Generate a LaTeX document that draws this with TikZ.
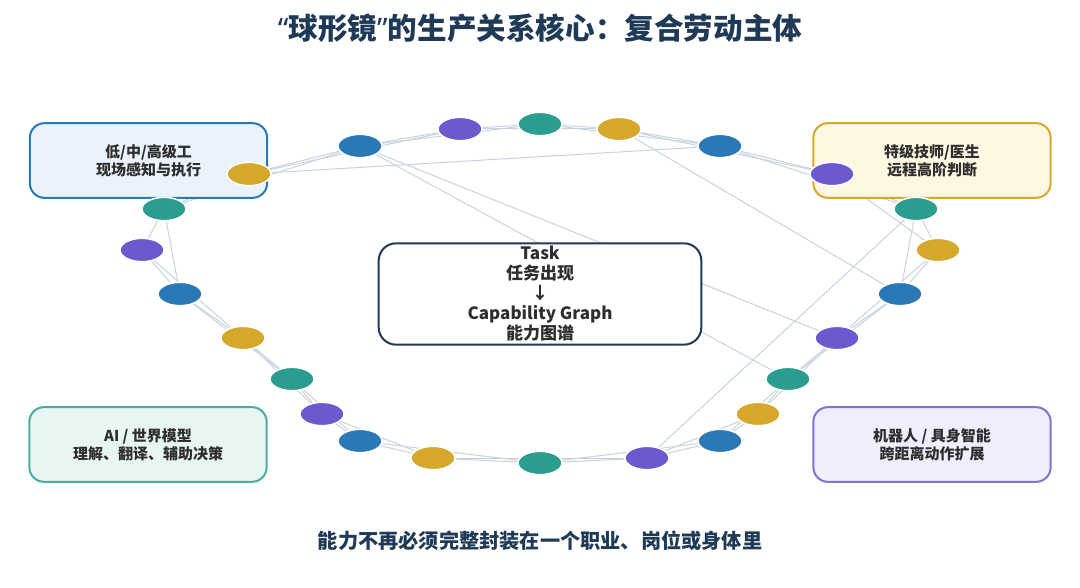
\documentclass[tikz,border=0pt]{standalone}
\usepackage{fontspec}
\setmainfont{Noto Sans CJK SC}
\newfontfamily\latinq{Noto Sans}
\usetikzlibrary{shapes.geometric}
\definecolor{navy}{HTML}{1E3A56}
\definecolor{txt}{HTML}{2E2E2E}
\definecolor{edgec}{HTML}{C8D2DC}
\definecolor{cblue}{HTML}{2A78B6}
\definecolor{cpurple}{HTML}{6A5ACD}
\definecolor{cgreen}{HTML}{2A9D8F}
\definecolor{cyellow}{HTML}{D5A72B}
\definecolor{fblue}{HTML}{EAF2FB}
\definecolor{fyellow}{HTML}{FEF7E2}
\definecolor{fgreen}{HTML}{E8F6F3}
\definecolor{fpurple}{HTML}{F0EEFC}
\pgfdeclarelayer{edges}
\pgfdeclarelayer{boxes}
\pgfsetlayers{edges,boxes,main}
\tikzset{
  dot/.style={ellipse, draw=white, line width=1.1pt, minimum width=33pt, minimum height=17.5pt, inner sep=0pt},
  db/.style={dot, fill=cblue},
  dp/.style={dot, fill=cpurple},
  dg/.style={dot, fill=cgreen},
  dy/.style={dot, fill=cyellow},
  link/.style={draw=edgec, line width=0.75pt},
  corner/.style={rounded corners=11pt, line width=1.5pt, minimum width=178pt, minimum height=56pt, align=center, text=txt, font=\fontsize{11.25}{13.5}\selectfont\bfseries},
  centerbox/.style={rounded corners=13pt, line width=1.5pt, draw=navy, fill=white, minimum width=242pt, minimum height=76pt, align=center, text=txt, font=\fontsize{12.75}{15}\selectfont\bfseries, inner sep=0pt}
}
\begin{document}
\begin{tikzpicture}[x=0.75pt,y=-0.75pt]
\useasboundingbox (0,0) rectangle (1080,588);
% title and footer
\node[text=navy, font=\fontsize{22.2}{24}\selectfont\bfseries] (title) at (540,28) {{\latinq\bfseries “}球形镜{\latinq\bfseries ”}的生产关系核心：复合劳动主体};
\node[text=navy, font=\fontsize{15.15}{18}\selectfont\bfseries] (foot) at (540,541) {能力不再必须完整封装在一个职业、岗位或身体里};
% ring nodes
\node[dy] (n1) at (249,174) {};
\node[db] (n2) at (360,146) {};
\node[dp] (n3) at (460,129) {};
\node[dg] (n4) at (540,124) {};
\node[dy] (n5) at (619,129) {};
\node[db] (n6) at (720,146) {};
\node[dp] (n7) at (832,174) {};
\node[dg] (n8) at (916,209) {};
\node[dy] (n9) at (938,250) {};
\node[db] (n10) at (900,294) {};
\node[dp] (n11) at (837,338) {};
\node[dg] (n12) at (788,379) {};
\node[dy] (n13) at (758,414) {};
\node[db] (n14) at (720,441) {};
\node[dp] (n15) at (647,458) {};
\node[dg] (n16) at (540,463) {};
\node[dy] (n17) at (433,458) {};
\node[db] (n18) at (360,441) {};
\node[dp] (n19) at (322,414) {};
\node[dg] (n20) at (292,379) {};
\node[dy] (n21) at (243,338) {};
\node[db] (n22) at (180,294) {};
\node[dp] (n23) at (142,250) {};
\node[dg] (n24) at (164,209) {};
% boxes
\begin{pgfonlayer}{boxes}
\node[corner, draw=cblue, fill=fblue] (tl) at (148.5,160.5) {低/中/高级工\\现场感知与执行};
\node[corner, draw=cyellow, fill=fyellow] (tr) at (932,160.5) {特级技师/医生\\远程高阶判断};
\node[corner, draw=cgreen!85, fill=fgreen] (bl) at (148,444.5) {AI / 世界模型\\理解、翻译、辅助决策};
\node[corner, draw=cpurple!85, fill=fpurple] (br) at (932,444.5) {机器人 / 具身智能\\跨距离动作扩展};
\node[centerbox] (core) at (540,294) {Task\\任务出现\\↓\\Capability Graph\\能力图谱};
\end{pgfonlayer}
% edges
\begin{pgfonlayer}{edges}
\foreach \i [evaluate=\i as \j using {int(mod(\i,24)+1)}] in {1,...,24} {
  \draw[link] (n\i) -- (n\j);
}
\foreach \i [evaluate=\i as \j using {int(mod(\i+1,24)+1)}] in {1,...,22,24} {
  \draw[link] (n\i) -- (n\j);
}
\draw[link] (n1) -- (n6);
\draw[link] (n2) -- (n11);
\draw[link] (n2) -- (n12);
\draw[link] (n5) -- (n10);
\draw[link] (n8) -- (n15);
\end{pgfonlayer}
\end{tikzpicture}
\end{document}
